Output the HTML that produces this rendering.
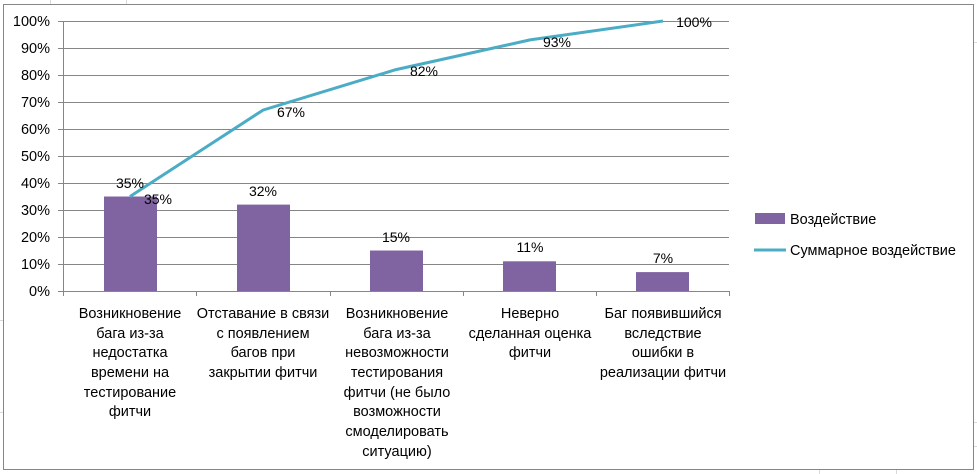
<!DOCTYPE html>
<html><head><meta charset="utf-8"><style>
html,body{margin:0;padding:0;background:#fff}
svg{display:block;font-family:"Liberation Sans","DejaVu Sans",sans-serif}
</style></head><body>
<svg width="977" height="474" viewBox="0 0 977 474" xmlns="http://www.w3.org/2000/svg">
<g stroke="#d9d9d9" stroke-width="1">
<line x1="50.5" y1="0" x2="50.5" y2="4"/><line x1="126.5" y1="0" x2="126.5" y2="4"/>
<line x1="974" y1="42.5" x2="977" y2="42.5"/><line x1="974" y1="422.5" x2="977" y2="422.5"/><line x1="974" y1="446.5" x2="977" y2="446.5"/>
<line x1="819.5" y1="469" x2="819.5" y2="474"/><line x1="896.5" y1="469" x2="896.5" y2="474"/>
<line x1="0" y1="320.5" x2="3" y2="320.5"/><line x1="0" y1="412.5" x2="3" y2="412.5"/>
</g>
<rect x="3.5" y="4.5" width="970" height="465" fill="#fff" stroke="#868686" stroke-width="1"/>
<g stroke="#868686" stroke-width="1">
<line x1="58" y1="21.5" x2="729" y2="21.5"/><line x1="58" y1="48.5" x2="729" y2="48.5"/>
<line x1="58" y1="75.5" x2="729" y2="75.5"/><line x1="58" y1="102.5" x2="729" y2="102.5"/>
<line x1="58" y1="129.5" x2="729" y2="129.5"/><line x1="58" y1="156.5" x2="729" y2="156.5"/>
<line x1="58" y1="183.5" x2="729" y2="183.5"/><line x1="58" y1="210.5" x2="729" y2="210.5"/>
<line x1="58" y1="237.5" x2="729" y2="237.5"/><line x1="58" y1="264.5" x2="729" y2="264.5"/>
<line x1="58" y1="291.5" x2="729" y2="291.5"/>
<line x1="63.5" y1="21" x2="63.5" y2="296"/>
<line x1="196.5" y1="291" x2="196.5" y2="296"/><line x1="330.5" y1="291" x2="330.5" y2="296"/>
<line x1="463.5" y1="291" x2="463.5" y2="296"/><line x1="596.5" y1="291" x2="596.5" y2="296"/>
<line x1="729.5" y1="291" x2="729.5" y2="296"/>
</g>
<g font-size="14.5" fill="#000" text-anchor="end">
<text x="50" y="26">100%</text><text x="50" y="53">90%</text><text x="50" y="80">80%</text>
<text x="50" y="107">70%</text><text x="50" y="134">60%</text><text x="50" y="161">50%</text>
<text x="50" y="188">40%</text><text x="50" y="215">30%</text><text x="50" y="242">20%</text>
<text x="50" y="269">10%</text><text x="50" y="296">0%</text>
</g>
<g fill="#8064a2">
<rect x="104" y="196.5" width="53" height="94.5"/>
<rect x="237" y="204.6" width="53" height="86.4"/>
<rect x="370" y="250.5" width="53" height="40.5"/>
<rect x="503" y="261.3" width="53" height="29.7"/>
<rect x="636" y="272.1" width="53" height="18.9"/>
</g>
<polyline points="130,196.5 263,110.1 396,69.6 530,39.9 663,21" fill="none" stroke="#4bacc6" stroke-width="3"/>
<g font-size="14" fill="#000" text-anchor="middle">
<text x="130" y="188">35%</text><text x="263" y="196">32%</text><text x="396" y="242">15%</text>
<text x="530" y="252">11%</text><text x="663" y="263">7%</text>
<text x="158" y="204">35%</text><text x="291" y="117">67%</text><text x="424" y="76">82%</text>
<text x="557" y="47">93%</text><text x="694" y="27">100%</text>
</g>
<g font-size="14.5" fill="#000" text-anchor="middle">
<text x="130" y="318">Возникновение</text><text x="130" y="338">бага из-за</text><text x="130" y="357">недостатка</text><text x="130" y="377">времени на</text><text x="130" y="397">тестирование</text><text x="130" y="416">фитчи</text>
<text x="263" y="318">Отставание в связи</text><text x="263" y="338">с появлением</text><text x="263" y="357">багов при</text><text x="263" y="377">закрытии фитчи</text>
<text x="397" y="318">Возникновение</text><text x="397" y="338">бага из-за</text><text x="397" y="357">невозможности</text><text x="397" y="377">тестирования</text><text x="397" y="397">фитчи (не было</text><text x="397" y="416">возможности</text><text x="397" y="436">смоделировать</text><text x="397" y="456">ситуацию)</text>
<text x="530" y="318">Неверно</text><text x="530" y="338">сделанная оценка</text><text x="530" y="357">фитчи</text>
<text x="663" y="318">Баг появившийся</text><text x="663" y="338">вследствие</text><text x="663" y="357">ошибки в</text><text x="663" y="377">реализации фитчи</text>
</g>
<rect x="755" y="213" width="30" height="11" fill="#8064a2"/>
<line x1="754" y1="250" x2="786" y2="250" stroke="#4bacc6" stroke-width="3"/>
<g font-size="14.5" fill="#000">
<text x="790" y="224">Воздействие</text>
<text x="790" y="255">Суммарное воздействие</text>
</g>
</svg>
</body></html>
